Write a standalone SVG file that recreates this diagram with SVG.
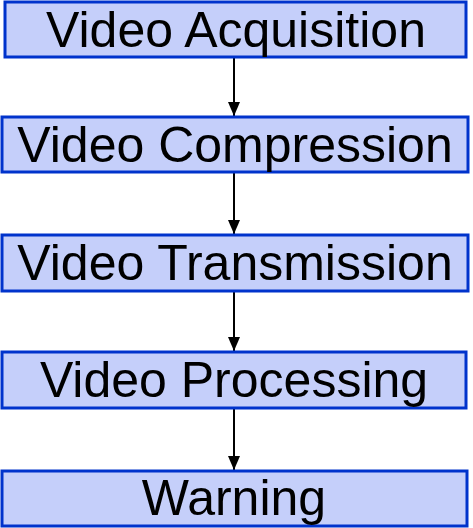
<svg xmlns="http://www.w3.org/2000/svg" width="473" height="528" viewBox="0 0 473 528">
<style>
.box{fill:#c5cffa;stroke:#0033cc;stroke-width:3}
.lbl{font-family:"Liberation Sans",Arial,sans-serif;font-size:50px;fill:#000;text-anchor:middle}
.con{stroke:#000;stroke-width:2;fill:none}
</style>
<defs>
<marker id="ah" markerWidth="14" markerHeight="12" refX="14" refY="6" orient="auto" markerUnits="userSpaceOnUse" viewBox="0 0 14 12">
<path d="M0,0 L14,6 L0,12 Z" fill="#000"/>
</marker>
</defs>
<g id="connectors">
<line class="con" x1="234" y1="58" x2="234" y2="116" marker-end="url(#ah)"/>
<line class="con" x1="234" y1="173" x2="234" y2="234" marker-end="url(#ah)"/>
<line class="con" x1="234" y1="292" x2="234" y2="351" marker-end="url(#ah)"/>
<line class="con" x1="234" y1="409" x2="234" y2="470" marker-end="url(#ah)"/>
</g>
<g id="n1"><rect class="box" x="5" y="2" width="461" height="55"/><text class="lbl" x="236" y="47">Video Acquisition</text></g>
<g id="n2"><rect class="box" x="2" y="117" width="466" height="55"/><text class="lbl" x="235" y="162">Video Compression</text></g>
<g id="n3"><rect class="box" x="2" y="235" width="466" height="56"/><text class="lbl" x="235" y="280">Video Transmission</text></g>
<g id="n4"><rect class="box" x="2" y="352" width="464" height="56"/><text class="lbl" x="234" y="397">Video Processing</text></g>
<g id="n5"><rect class="box" x="2" y="471" width="465" height="55"/><text class="lbl" x="234" y="515">Warning</text></g>
</svg>
